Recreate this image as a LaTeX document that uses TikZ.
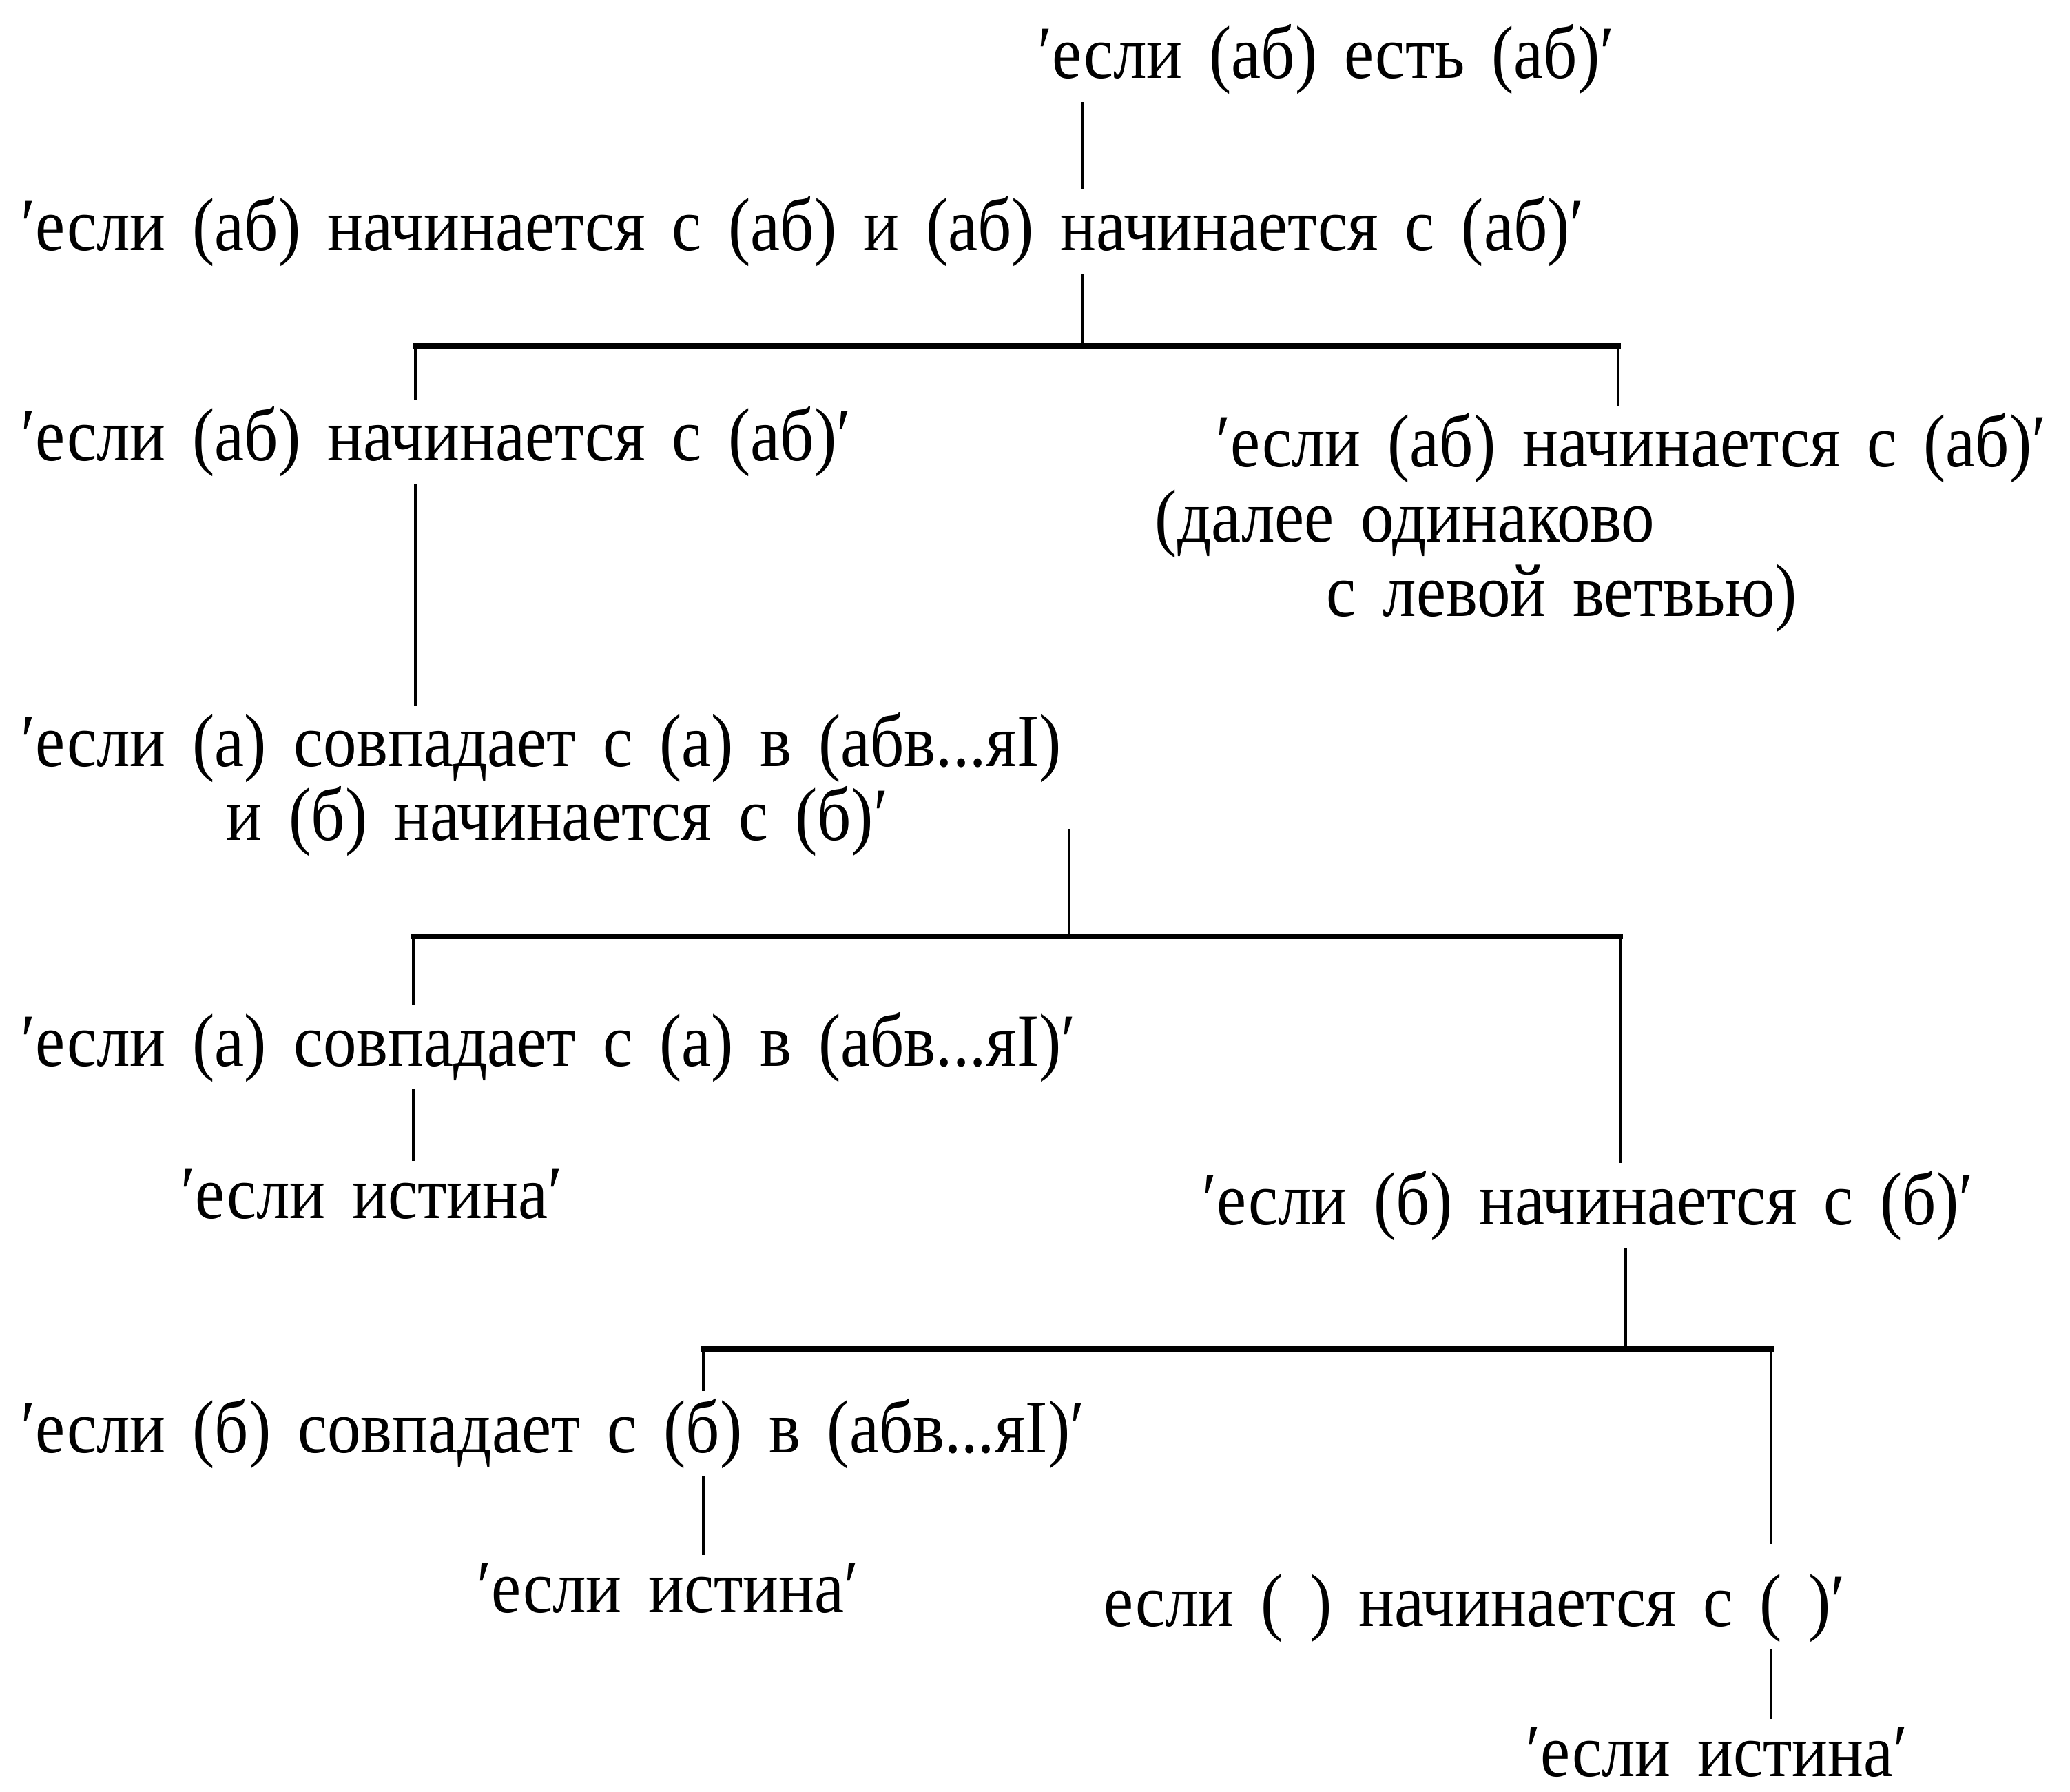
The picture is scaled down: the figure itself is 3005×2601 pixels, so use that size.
\documentclass[tikz,border=0pt]{standalone}
\usepackage{fontspec}
\setmainfont{Liberation Serif}[FakeStretch=0.89, WordSpace=1.6]
\newcommand{\strich}{′}

\begin{document}
\begin{tikzpicture}[
        x=0.01cm, y=-0.01cm,
        goal/.style={anchor=base west, inner sep=0pt, font=\fontsize{31}{36}\selectfont},
        stem/.style={line width=1.4pt, shorten <=3pt, shorten >=3pt},
        rise/.style={stem, shorten >=0pt},
        drop/.style={stem, shorten <=0pt},
        bar/.style={line width=2.4pt, line cap=rect}
    ]
    \useasboundingbox (0,0) rectangle (3005,2601);

    % goals
    \node[goal] (root) at (1506,114) {\strich если (аб) есть (аб)\strich};
    \node[goal] (conj) at (30,364)
        {\strich если (аб) начинается с (аб) и (аб) начинается с (аб)\strich};

    \node[goal] (left) at (30,669) {\strich если (аб) начинается с (аб)\strich};
    \node[goal] (right) at (1765,678) {\strich если (аб) начинается с (аб)\strich};
    \node[goal] (note) at (1676,787) {(далее одинаково};
    \node[goal] (notecont) at (1925,895) {с левой ветвью)};

    \node[goal] (splitA) at (30,1113) {\strich если (а) совпадает с (а) в (абв...яI)};
    \node[goal] (splitB) at (328,1220) {и (б) начинается с (б)\strich};

    \node[goal] (matchA) at (30,1547) {\strich если (а) совпадает с (а) в (абв...яI)\strich};
    \node[goal] (trueA) at (262,1768) {\strich если истина\strich};
    \node[goal] (startB) at (1745,1777) {\strich если (б) начинается с (б)\strich};

    \node[goal] (matchB) at (30,2108) {\strich если (б) совпадает с (б) в (абв...яI)\strich};
    \node[goal] (trueB) at (692,2340) {\strich если истина\strich};
    \node[goal] (empty) at (1602,2360) {если ( ) начинается с ( )\strich};
    \node[goal] (trueC) at (2215,2578) {\strich если истина\strich};

    % forks
    \coordinate (fork1) at (1571,502);
    \coordinate (bar1l) at (603,502);
    \coordinate (bar1r) at (2349,502);

    \coordinate (fork2) at (1552,1359);
    \coordinate (bar2l) at (600,1359);
    \coordinate (bar2r) at (2352,1359);

    \coordinate (fork3) at (2360,1958);
    \coordinate (bar3l) at (1021,1958);
    \coordinate (bar3r) at (2571,1958);

    % first step
    \draw[stem]
        (root.south -| fork1) --
        (conj.north -| fork1);
    \draw[rise]
        (conj.south -| fork1) --
        (fork1);
    \draw[bar] (bar1l) -- (bar1r);
    \draw[drop]
        (bar1l) --
        (left.north -| bar1l);
    \draw[drop]
        (bar1r) --
        (right.north -| bar1r);

    % left branch
    \draw[stem]
        (left.south -| bar1l) --
        (splitA.north -| bar1l);
    \draw[rise]
        (splitB.center -| fork2) --
        (fork2);
    \draw[bar] (bar2l) -- (bar2r);
    \draw[drop]
        (bar2l) --
        (matchA.north -| bar2l);
    \draw[drop]
        (bar2r) --
        (startB.north -| bar2r);
    \draw[stem]
        (matchA.south -| bar2l) --
        (trueA.north -| bar2l);

    % (б)
    \draw[rise]
        (startB.south -| fork3) --
        (fork3);
    \draw[bar] (bar3l) -- (bar3r);
    \draw[drop]
        (bar3l) --
        (matchB.north -| bar3l);
    \draw[drop, shorten >=12pt]
        (bar3r) --
        (empty.north -| bar3r);
    \draw[stem]
        (matchB.south -| bar3l) --
        (trueB.north -| bar3l);
    \draw[stem]
        (empty.south -| bar3r) --
        (trueC.north -| bar3r);

\end{tikzpicture}
\end{document}
